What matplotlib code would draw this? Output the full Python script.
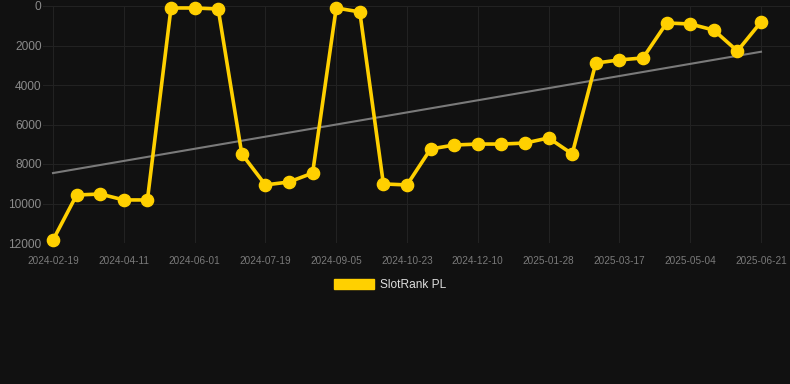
import numpy as np
import matplotlib
matplotlib.use("Agg")
import matplotlib.pyplot as plt
from matplotlib.patches import Patch

# Data (rank values, lower is better; y axis inverted)
ranks = [11850, 9570, 9520, 9820, 9820, 100, 100, 150, 7490, 9060, 8910, 8460,
         100, 300, 9010, 9060, 7240, 7040, 6990, 6990, 6940, 6680, 7490,
         2890, 2730, 2630, 860, 910, 1220, 2280, 810]
tick_labels = ["2024-02-19", "2024-04-11", "2024-06-01", "2024-07-19", "2024-09-05",
               "2024-10-23", "2024-12-10", "2025-01-28", "2025-03-17", "2025-05-04",
               "2025-06-21"]
y_ticks = [0, 2000, 4000, 6000, 8000, 10000, 12000]
series_name = "SlotRank PL"

bg = "#111111"
gold = "#FFD000"

fig = plt.figure(figsize=(7.9, 3.84), dpi=100, facecolor=bg)
ax = fig.add_axes([43/790, 1-243/384, 1-43/790, (243-6)/384])
ax.set_facecolor(bg)

x = np.arange(len(ranks))
y = np.array(ranks, dtype=float)

# trend line
coef = np.polyfit(x, y, 1)
ax.plot([x[0], x[-1]], np.polyval(coef, [x[0], x[-1]]), color="#7a7a7a", lw=1.5, zorder=2)

ax.plot(x, y, color=gold, lw=2.6, marker="o", markersize=8.8, clip_on=False, zorder=3)

ax.set_ylim(12000, 0)
ax.set_xlim(-10/23.6, 30 + 29/23.6)
ax.set_yticks(y_ticks)
ax.set_yticklabels([str(v) for v in y_ticks], fontsize=8.6, color="#8a8a8a", family="Liberation Sans")
tick_pos = np.arange(0, len(ranks), 3)
ax.set_xticks(tick_pos)
ax.set_xticklabels(tick_labels, fontsize=7.2, color="#7a7a7a", family="Liberation Sans")
ax.tick_params(axis="both", length=0)
ax.tick_params(axis="x", pad=9)
ax.tick_params(axis="y", pad=1)
ax.grid(True, color="#222222", lw=0.8)
for s in ax.spines.values():
    s.set_visible(False)

leg = fig.legend(handles=[Patch(facecolor=gold, edgecolor=gold)], labels=[series_name],
                 loc="center", bbox_to_anchor=(390/790, 1-285/384), frameon=False,
                 handlelength=3.36, handleheight=1.0, handletextpad=0.5,
                 prop={"family": "Liberation Sans", "size": 8.6})
for t in leg.get_texts():
    t.set_color("#dddddd")

fig.savefig("out.png", dpi=100, facecolor=bg)
